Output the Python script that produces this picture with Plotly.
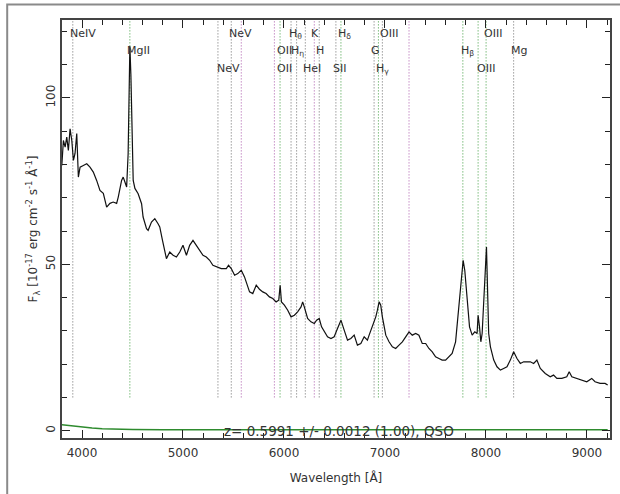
import plotly.graph_objects as go

# ---------------- data ----------------
wavelength = [3800,3816,3833,3849,3865,3882,3899,3915,3931,3948,
              3964,3981,4013,4047,4079,4112,4145,4178,4211,4244,
              4277,4309,4343,4359,4392,4408,4425,4442,4457,4467,
              4474,4484,4494,4507,4524,4556,4590,4605,4639,4655,
              4688,4721,4753,4770,4797,4820,4836,4869,4902,4935,
              4968,5000,5034,5066,5099,5132,5165,5198,5231,5264,
              5296,5330,5379,5429,5451,5478,5511,5543,5577,5609,
              5659,5691,5725,5757,5790,5823,5856,5889,5922,5948,
              5962,5975,6004,6037,6070,6103,6135,6169,6185,6201,
              6234,6267,6300,6323,6349,6372,6399,6431,6465,6497,
              6530,6564,6596,6629,6662,6695,6727,6761,6794,6826,
              6843,6876,6909,6925,6942,6958,6974,7008,7040,7073,
              7106,7139,7172,7205,7238,7270,7304,7336,7369,7403,
              7435,7468,7501,7534,7566,7600,7632,7665,7699,7724,
              7748,7774,7790,7813,7837,7863,7889,7912,7922,7936,
              7949,7962,7978,7995,8005,8015,8027,8044,8077,8109,
              8143,8175,8208,8241,8274,8307,8340,8373,8405,8439,
              8472,8504,8538,8587,8636,8669,8702,8751,8800,8824,
              8850,8899,8948,8998,9047,9080,9130,9179,9205]
flux = [79.7,87.2,85.2,88.2,84.2,90.7,87.2,81.2,83.3,89.3,
        76.2,79.2,79.7,80.2,79.2,77.7,75.2,72.2,71.3,67.2,
        68.3,68.7,68.3,70.2,75.2,76.2,74.7,73.2,83.3,102,
        115.5,107,87.2,75.2,72.8,71.2,68.2,64.2,60.7,60.2,
        62.7,63.7,62.2,61.2,57.2,53.7,51.7,53.7,52.7,52.2,
        53.7,55.7,52.7,55.7,57.2,55.7,54.2,52.7,52.2,51.2,
        49.7,49.2,48.7,48.7,49.7,48.7,46.7,47.2,48.2,46.2,
        41.7,41.2,43.7,42.5,41.7,41.2,40.2,39.7,38.7,39.2,
        43.7,38.7,37.7,36.2,34.2,34.7,35.7,37.2,38.7,37.2,
        33.7,32.7,32.2,33.2,33.7,31.2,29.7,28.2,27.7,28.2,
        30.7,33.2,30.2,27.2,27.7,28.7,25.7,26.2,28.2,27.2,
        28.7,31.2,34.2,36.2,38.7,37.7,34.2,28.7,26.7,25.2,
        24.7,25.7,26.7,28.2,29.7,28.7,29.2,28.7,26.2,26.2,
        24.7,23.7,22.2,21.7,21.2,21.2,22.2,23.2,26.7,34.2,
        43.2,51.2,48.2,39.2,31.2,28.7,29.7,29.2,34.7,31.2,
        26.7,29.2,39.2,50.2,55.2,43.2,29.2,25.2,21.2,19.2,
        18.2,18.7,19.2,21.2,23.7,21.7,20.2,20.7,20.7,20.7,
        20.2,21.2,18.7,17.2,16.2,16.7,15.7,15.7,16.2,17.7,
        16.2,15.7,15.2,14.7,15.7,14.7,14.2,14.2,13.7]

err_wavelength = [3800, 3850, 3900, 3950, 4000, 4100, 4200, 4300, 4500, 4800, 5500, 6500, 7500, 8500, 9000, 9205]
err_flux = [1.8, 1.6, 1.5, 1.3, 1.1, 0.8, 0.6, 0.45, 0.35, 0.3, 0.25, 0.25, 0.25, 0.3, 0.3, 0.25]

line_wavelength = [3909, 4474, 5346, 5478, 5577, 5905, 5961, 6070, 6125, 6211, 6300,
                   6349, 6514, 6564, 6892, 6935, 6974, 7238, 7771, 7922, 8001, 8274]
line_kind = ["k", "g", "k", "k", "p", "p", "g", "k", "k", "k", "p",
             "k", "k", "g", "k", "g", "k", "p", "g", "g", "g", "k"]

label_text = ["NeIV", "MgII", "NeV", "NeV", "OII", "OII", "H<sub>θ</sub>", "H<sub>η</sub>",
              "HeI", "K", "H", "H<sub>δ</sub>", "SII", "G", "H<sub>γ</sub>", "OIII",
              "H<sub>β</sub>", "OIII", "OIII", "Mg"]
label_wavelength = [3862, 4425, 5431, 5313, 5915, 5915, 6034, 6050,
                    6172, 6251, 6300, 6517, 6468, 6843, 6892, 6932,
                    7731, 7958, 7889, 8225]
label_flux = [119.3, 114.2, 119.3, 108.8, 114.2, 108.8, 119.3, 114.2,
              108.8, 119.3, 114.2, 119.3, 108.8, 114.2, 108.8, 119.3,
              114.2, 119.3, 108.8, 114.2]

line_bottom, line_top = 10, 123.4
x_range = [3802, 9228]
y_range = [-2.2, 123.4]
redshift_text = "z= 0.5991 +/- 0.0012 (1.00), QSO"

# ---------------- figure ----------------
kind_color = {"k": "#6a6a6a", "g": "#3a9a3a", "p": "#a855a8"}
FONT = "DejaVu Sans"
TXT = "#333333"
AX = "#222222"

fig = go.Figure()

for lam, kind in zip(line_wavelength, line_kind):
    fig.add_trace(go.Scatter(x=[lam, lam], y=[line_bottom, line_top], mode="lines",
                             line=dict(color=kind_color[kind], width=1, dash="1px,2px"),
                             hoverinfo="skip", showlegend=False))

# error curve lives on the overlay axes (which carry the minor ticks)
fig.add_trace(go.Scatter(x=err_wavelength, y=err_flux, mode="lines", xaxis="x2", yaxis="y2",
                         line=dict(color="#2e8b2e", width=1.5), showlegend=False))
fig.add_trace(go.Scatter(x=wavelength, y=flux, mode="lines",
                         line=dict(color="#111111", width=1.2), showlegend=False))

for t, lx, ly in zip(label_text, label_wavelength, label_flux):
    fig.add_annotation(x=lx, y=ly, text=t, showarrow=False, xanchor="left", yanchor="middle",
                       font=dict(family=FONT, size=11, color=TXT))

fig.add_annotation(x=6542, y=0, text=redshift_text, showarrow=False, xanchor="center",
                   yanchor="middle", font=dict(family=FONT, size=13.5, color=TXT))

# outer frame (only top/left visible in the crop)
fig.add_shape(type="rect", xref="paper", yref="paper", x0=-0.100, x1=1.05, y0=-0.20, y1=1.037,
              line=dict(color="#8a8a8a", width=2), fillcolor="rgba(0,0,0,0)", layer="above")

axis_common = dict(showgrid=False, zeroline=False, showline=True, linecolor="#444444",
                   linewidth=1.5, mirror="allticks", ticks="inside", ticklen=8, tickwidth=1.3,
                   tickcolor=AX, tickfont=dict(family=FONT, size=12, color=TXT))

fig.update_layout(
    width=620, height=494, margin=dict(l=62, r=10, t=20, b=56, autoexpand=False),
    paper_bgcolor="white", plot_bgcolor="white", showlegend=False,
    xaxis=dict(range=x_range, dtick=1000, tick0=0, ticklabelstandoff=3,
               title=dict(text="Wavelength [Å]", font=dict(family=FONT, size=12, color=TXT), standoff=14),
               **axis_common),
    yaxis=dict(range=y_range, dtick=50, tick0=0, tickangle=-90,
               title=dict(text="F<sub>λ</sub> [10<sup>-17</sup> erg cm<sup>-2</sup> s<sup>-1</sup> Å<sup>-1</sup>]",
                          font=dict(family=FONT, size=12, color=TXT), standoff=4),
               **axis_common),
    xaxis2=dict(range=x_range, dtick=200, tick0=0, overlaying="x", anchor="y2",
                showticklabels=False, showgrid=False, zeroline=False, showline=False,
                mirror="allticks", ticks="inside", ticklen=5, tickwidth=1.3, tickcolor=AX),
    yaxis2=dict(range=y_range, dtick=10, tick0=0, overlaying="y", anchor="x2",
                showticklabels=False, showgrid=False, zeroline=False, showline=False,
                mirror="allticks", ticks="inside", ticklen=5, tickwidth=1.3, tickcolor=AX),
)

fig.write_html("out.html", config={"displayModeBar": False},
               post_script="document.body.style.margin='0';document.body.style.overflow='hidden';")
